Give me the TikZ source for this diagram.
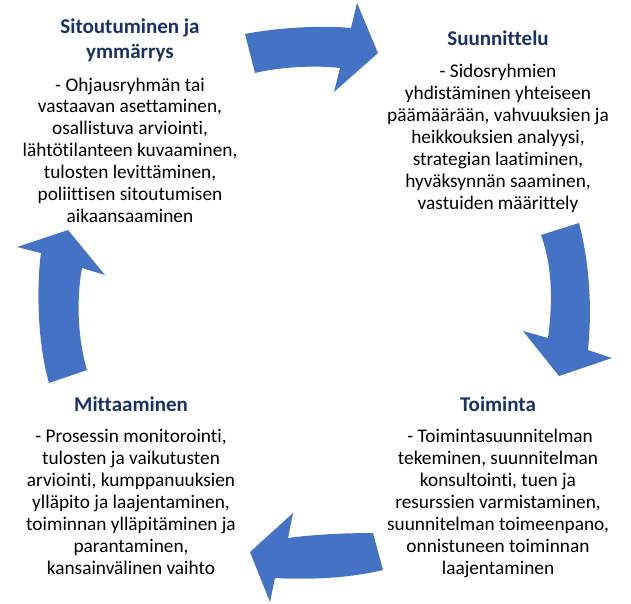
\documentclass[tikz,border=0pt]{standalone}
\usepackage{fontspec}
\setmainfont{Carlito}[Ligatures=NoCommon]
\usepackage{xcolor}
\usetikzlibrary{positioning}
\definecolor{cycleblue}{HTML}{4472C4}
\definecolor{titlenavy}{HTML}{1A3263}

\begin{document}
\begin{tikzpicture}[
    x=1pt, y=-1pt,
    node distance=17pt,
    phase/.style={inner sep=0pt, align=center, text=titlenavy, font=\fontsize{21}{25}\selectfont\bfseries},
    tasks/.style={inner sep=0pt, align=center, font=\fontsize{19.3}{21.9}\selectfont},
    bigarrow/.style={fill=cycleblue, draw=none}
]
    \useasboundingbox (0,0) rectangle (631,603);

    \node[phase, anchor=north] (commit) at (130,19) {Sitoutuminen ja\\ymmärrys};
    \node[tasks, below=15pt of commit] (committasks) {- Ohjausryhmän tai\\vastaavan asettaminen,\\osallistuva arviointi,\\lähtötilanteen kuvaaminen,\\tulosten levittäminen,\\poliittisen sitoutumisen\\aikaansaaminen};

    \node[phase, anchor=north] (plan) at (498,31) {Suunnittelu};
    \node[tasks, below=18pt of plan] (plantasks) {- Sidosryhmien\\yhdistäminen yhteiseen\\päämäärään, vahvuuksien ja\\heikkouksien analyysi,\\strategian laatiminen,\\hyväksynnän saaminen,\\vastuiden määrittely};

    \node[phase, anchor=north] (action) at (498,397) {Toiminta};
    \node[tasks, below=of action] (actiontasks) {\ - Toimintasuunnitelman\\tekeminen, suunnitelman\\konsultointi, tuen ja\\resurssien varmistaminen,\\suunnitelman toimeenpano,\\onnistuneen toiminnan\\laajentaminen};

    \node[phase, anchor=north] (measure) at (131,397) {Mittaaminen};
    \node[tasks, below=of measure] (measuretasks) {- Prosessin monitorointi,\\tulosten ja vaikutusten\\arviointi, kumppanuuksien\\ylläpito ja laajentaminen,\\toiminnan ylläpitäminen ja\\parantaminen,\\kansainvälinen vaihto};

    \fill[bigarrow] (245,34) .. controls (275,28) and (320,25) .. (351,28) -- (357,3) -- (378,53) -- (334,92) -- (340,68) .. controls (315,65) and (280,67) .. (255,73) -- cycle;
    \fill[bigarrow] (541,235) -- (579,223) .. controls (590,265) and (592,310) .. (588,350) -- (612,358) -- (559,376) -- (523,331) -- (548,338) .. controls (553,300) and (552,265) .. (541,235) -- cycle;
    \fill[bigarrow] (373,533) .. controls (340,533) and (310,535) .. (288,538) -- (293,513) -- (250,552) -- (270,602) -- (275,578) .. controls (310,580) and (350,578) .. (383,570) -- cycle;
    \fill[bigarrow] (49,383) .. controls (38,345) and (36,290) .. (41,253) -- (17,247) -- (68,230) -- (105,275) -- (82,268) .. controls (76,300) and (78,340) .. (87,370) -- cycle;
\end{tikzpicture}
\end{document}
